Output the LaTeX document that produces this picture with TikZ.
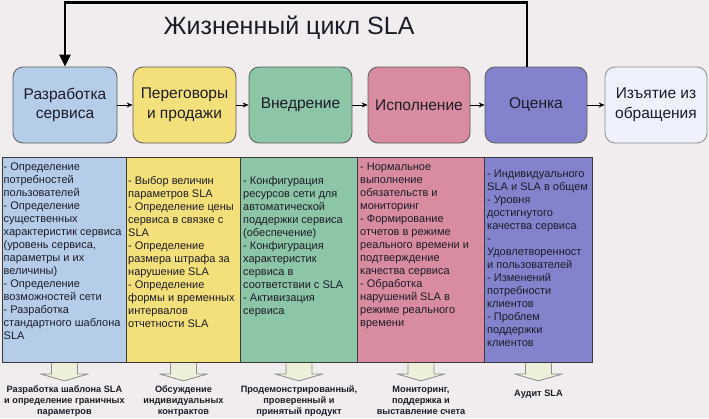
\documentclass[tikz,border=0pt]{standalone}
\usepackage{fontspec}
\setmainfont{Liberation Sans}
\usetikzlibrary{arrows.meta,calc}
\definecolor{bgc}{HTML}{F1EDEF}
\definecolor{cblue}{HTML}{B5CDE9}
\definecolor{cyellow}{HTML}{F4E07B}
\definecolor{cgreen}{HTML}{8DC5A7}
\definecolor{cpink}{HTML}{D98B9F}
\definecolor{cpurple}{HTML}{8383CD}
\definecolor{cwhite}{HTML}{EEF1FB}
\definecolor{bordc}{HTML}{5A5A5A}
\definecolor{colbord}{HTML}{3A3A3A}
\definecolor{arrfill}{HTML}{EDEFD8}
\definecolor{arrline}{HTML}{8C8C8C}
\definecolor{txt}{HTML}{1C1C28}
\begin{document}
\begin{tikzpicture}[x=1pt,y=-1pt,
  topbox/.style={draw=bordc, line width=0.8pt, rounded corners=10pt, minimum height=76pt,
    inner sep=0pt, align=center, font=\fontsize{15.5}{19.5}\selectfont, text=txt},
  colbox/.style={draw=colbord, line width=0.9pt, minimum height=205pt, inner sep=0pt, anchor=north west},
  coltext/.style={anchor=north west, inner sep=0pt, align=left, font=\fontsize{11}{13}\selectfont, text=txt},
  lbl/.style={anchor=north, inner sep=0pt, align=center, font=\bfseries\fontsize{9.2}{11}\selectfont, text=txt},
  link/.style={-{Stealth[length=6pt,width=5pt]}, line width=0.7pt, black},
  fb/.style={-{Triangle[length=12pt,width=11pt]}, line width=2.5pt, black},
  title/.style={font=\fontsize{25}{30}\selectfont, text=txt, inner sep=0pt}
]
\fill[bgc] (0,0) rectangle (709,418);
\useasboundingbox (0,0) rectangle (709,418);

\node[title] (title) at (289,28) {Жизненный цикл SLA};

\node[topbox, fill=cblue, minimum width=104pt] (b1) at (65,105) {Разработка\\сервиса};
\node[topbox, fill=cyellow, minimum width=103pt] (b2) at (184.5,105) {Переговоры\\и продажи};
\node[topbox, fill=cgreen, minimum width=103pt] (b3) at (300.5,105) {Внедрение};
\node[topbox, fill=cpink, minimum width=102pt] (b4) at (419,105) {Исполнение};
\node[topbox, fill=cpurple, minimum width=102pt] (b5) at (536,105) {Оценка};
\node[topbox, fill=cwhite, draw=arrline, minimum width=102pt] (b6) at (656,105) {Изъятие из\\обращения};

\draw[link] (b1) -- (b2);
\draw[link] (b2) -- (b3);
\draw[link] (b3) -- (b4);
\draw[link] (b4) -- (b5);
\draw[link] (b5) -- (b6);

\draw[fb] ([xshift=-9pt]b5.north) -- ++(0,-64) -| (b1.north);

\node[colbox, fill=cblue, minimum width=124pt] (c1) at (2,157) {};
\node[colbox, fill=cyellow, minimum width=114pt] (c2) at (126,157) {};
\node[colbox, fill=cgreen, minimum width=117pt] (c3) at (240,157) {};
\node[colbox, fill=cpink, minimum width=127pt] (c4) at (357,157) {};
\node[colbox, fill=cpurple, minimum width=108pt] (c5) at (484,157) {};

\node[coltext] (t1) at (3.5,162.5) {- Определение\\потребностей\\пользователей\\- Определение\\существенных\\характеристик сервиса\\(уровень сервиса,\\параметры и их\\величины)\\- Определение\\возможностей сети\\- Разработка\\стандартного шаблона\\SLA};
\node[coltext] (t2) at (128,176.5) {- Выбор величин\\параметров SLA\\- Определение цены\\сервиса в связке с\\SLA\\- Определение\\размера штрафа за\\нарушение SLA\\- Определение\\формы и временных\\интервалов\\отчетности SLA};
\node[coltext] (t3) at (243,176.5) {- Конфигурация\\ресурсов сети для\\автоматической\\поддержки сервиса\\(обеспечение)\\- Конфигурация\\характеристик\\сервиса в\\соответствии с SLA\\- Активизация\\сервиса};
\node[coltext] (t4) at (360,162.5) {- Нормальное\\выполнение\\обязательств и\\мониторинг\\- Формирование\\отчетов в режиме\\реального времени и\\подтверждение\\качества сервиса\\- Обработка\\нарушений SLA в\\режиме реального\\времени};
\node[coltext] (t5) at (487,169.5) {- Индивидуального\\SLA и SLA в общем\\- Уровня\\достигнутого\\качества сервиса\\-\\Удовлетворенност\\и пользователей\\- Изменений\\потребности\\клиентов\\- Проблем\\поддержки\\клиентов};

\foreach \c in {c1,c2,c3,c4,c5}{
  \begin{scope}[shift={(\c.south)}]
    \fill[arrfill] (-13,0.5) -- (-13,11) -- (-24,11) -- (0,18) -- (24,11) -- (13,11) -- (13,0.5) -- cycle;
    \draw[arrline, line width=0.8pt, line join=round] (-13,0.5) -- (-13,11) -- (-24,11) -- (0,18) -- (24,11) -- (13,11) -- (13,0.5);
  \end{scope}
}

\node[lbl] (l1) at ($(c1.south)+(0,22.5)$) {Разработка шаблона SLA\\и определение граничных\\параметров};
\node[lbl] (l2) at ($(c2.south)+(0,22.5)$) {Обсуждение\\индивидуальных\\контрактов};
\node[lbl] (l3) at ($(c3.south)+(0,22.5)$) {Продемонстрированный,\\проверенный и\\принятый продукт};
\node[lbl] (l4) at ($(c4.south)+(0,23)$) {Мониторинг,\\поддержка и\\выставление счета};
\node[lbl] (l5) at ($(c5.south)+(0,26.5)$) {Аудит SLA};
\end{tikzpicture}
\end{document}
